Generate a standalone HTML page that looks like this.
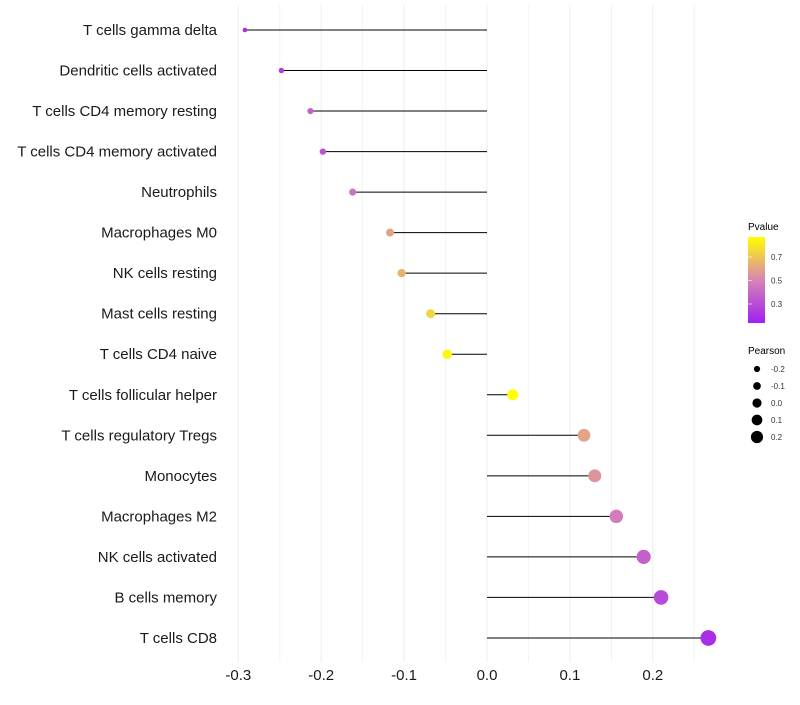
<!DOCTYPE html>
<html><head><meta charset="utf-8"><style>
body{margin:0;background:#fff;}
svg{font-family:"Liberation Sans",sans-serif;}
</style></head><body>
<svg id="chart" width="800" height="700">
<defs><linearGradient id="pg" x1="0" y1="1" x2="0" y2="0">
<stop offset="0" stop-color="#a020f0"/><stop offset="0.5" stop-color="#d884b4"/><stop offset="1" stop-color="#ffff00"/>
</linearGradient></defs>
<g id="grid"></g><g id="marks"></g><g id="ylabels"></g><g id="xlabels"></g>
<g>
<text x="748" y="230" font-size="10">Pvalue</text>
<rect x="748" y="237" width="17" height="86" fill="url(#pg)"/>
<g id="cbticks"></g>
</g>
<g>
<text x="748" y="354" font-size="10">Pearson</text>
<g id="sizeleg"></g>
</g>
</svg>
<script>
const categories=["T cells gamma delta","Dendritic cells activated","T cells CD4 memory resting","T cells CD4 memory activated","Neutrophils","Macrophages M0","NK cells resting","Mast cells resting","T cells CD4 naive","T cells follicular helper","T cells regulatory  Tregs ","Monocytes","Macrophages M2","NK cells activated","B cells memory","T cells CD8"];
const pearson=[-0.292,-0.248,-0.213,-0.198,-0.162,-0.117,-0.103,-0.068,-0.048,0.031,0.117,0.130,0.156,0.189,0.210,0.267];
const pvalue=[0.2,0.25,0.38,0.33,0.45,0.6,0.65,0.75,0.85,0.87,0.6,0.56,0.48,0.38,0.3,0.2];
const xTicks=[-0.3,-0.2,-0.1,0.0,0.1,0.2];
const xTickLabels=["-0.3","-0.2","-0.1","0.0","0.1","0.2"];
const cbTicks=[0.3,0.5,0.7];
const sizeTicks=[-0.2,-0.1,0.0,0.1,0.2];
const NS="http://www.w3.org/2000/svg";
const X=v=>487+v*829;
const Y=i=>30+i*40.53;
const R=v=>5.2+10*v;
const RL=v=>4.6+7.5*v;
const cbY=p=>257+(0.7-p)*117.5;
function col(p){
  const t=Math.max(0,Math.min(1,(p-0.15)/0.72));
  const a=[160,32,240],m=[216,132,180],b=[255,255,0];
  let c;
  if(t<0.5){const u=t/0.5;c=a.map((x,k)=>x+(m[k]-x)*u);}else{const u=(t-0.5)/0.5;c=m.map((x,k)=>x+(b[k]-x)*u);}
  return `rgb(${c.map(Math.round).join(',')})`;
}
function mk(tag,attrs,parent){const e=document.createElementNS(NS,tag);for(const k in attrs)e.setAttribute(k,attrs[k]);parent.appendChild(e);return e;}
const grid=document.getElementById('grid');
for(let k=0;k<=11;k++){
  const v=-0.3+k*0.05;
  const l=mk('line',{x1:X(v),x2:X(v),y1:5,y2:662,stroke:k%2?'#f3f3f3':'#ececec','stroke-width':1},grid);
  
  
}
const marks=document.getElementById('marks');
categories.forEach((c,i)=>{
  const y=Y(i);
  const ln=mk('line',{x1:X(0),x2:X(pearson[i]),y1:y,y2:y,stroke:'#000','stroke-width':1},marks);
  
  
  const p=mk('circle',{cx:X(pearson[i]),cy:y,r:R(pearson[i]),fill:col(pvalue[i])},marks);
  
  
  const t=mk('text',{x:217,y:y+5,'text-anchor':'end','font-size':15,fill:'#1a1a1a'},document.getElementById('ylabels'));
  t.textContent=c;
  
  
});
xTicks.forEach((v,i)=>{
  const t=mk('text',{x:X(v),y:680,'text-anchor':'middle','font-size':15,fill:'#1a1a1a'},document.getElementById('xlabels'));
  t.textContent=xTickLabels[i];
  
  
});
const cb=document.getElementById('cbticks');
cbTicks.forEach(p=>{
  const y=cbY(p);
  const l=mk('line',{x1:748,x2:752,y1:y,y2:y,stroke:'#fff','stroke-opacity':0.6},cb);
  
  
  const t=mk('text',{x:771,y:y+3,'font-size':8,fill:'#333'},cb);
  t.textContent=p.toFixed(1);
  
  
});
const sl=document.getElementById('sizeleg');
sizeTicks.forEach((v,i)=>{
  const y=369+i*17;
  const c=mk('circle',{cx:757,cy:y,r:RL(v),fill:'#000'},sl);
  
  
  const t=mk('text',{x:771,y:y+3,'font-size':8,fill:'#333'},sl);
  t.textContent=v.toFixed(1);
  
  
});
</script>
</body></html>
